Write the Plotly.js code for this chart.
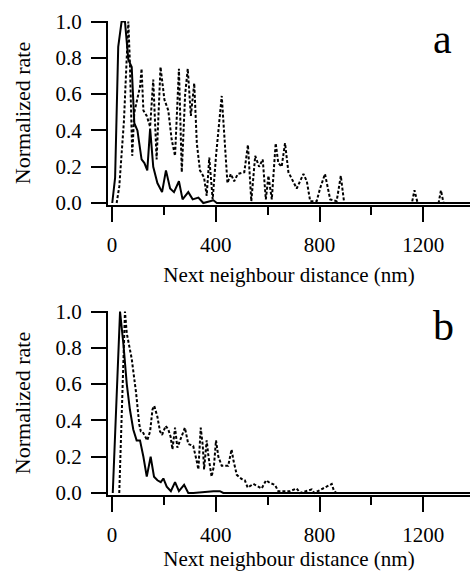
<!DOCTYPE html>
<html>
<head>
<meta charset="utf-8">
<script src="https://cdn.plot.ly/plotly-3.0.1.min.js"></script>
<style>html,body{margin:0;padding:0;background:#fff;}#chart{width:470px;height:571px;}</style>
</head>
<body>
<div id="chart"></div>
<script>
// Panel a
var aSolidX = [1, 12, 24, 37, 50, 63, 76, 86, 98, 114, 125, 136, 147, 159, 175, 193, 208, 224, 239, 258, 272, 294, 311, 333, 352, 391, 404, 1400];
var aSolidY = [0, 0.14, 0.86, 1.0, 1.0, 0.79, 0.75, 0.44, 0.40, 0.24, 0.22, 0.18, 0.41, 0.20, 0.11, 0.06, 0.18, 0.08, 0.06, 0.12, 0.02, 0.06, 0.02, 0.03, 0, 0.015, 0, 0];
var aDotX = [18, 28, 46, 63, 69, 78, 86, 108, 114, 121, 134, 147, 159, 172, 187, 202, 217, 230, 243, 258, 269, 282, 292, 304, 317, 327, 339, 355, 365, 375, 388, 401, 423, 436, 445, 458, 471, 485, 510, 524, 537, 552, 567, 581, 593, 603, 616, 631, 641, 654, 667, 680, 693, 712, 738, 751, 764, 789, 802, 821, 841, 866, 882, 895, 1156, 1166, 1178, 1259, 1268, 1278, 1400];
var aDotY = [0, 0.09, 0.45, 1.0, 0.77, 0.26, 0.5, 0.64, 0.74, 0.51, 0.48, 0.42, 0.68, 0.24, 0.75, 0.57, 0.51, 0.35, 0.26, 0.74, 0.17, 0.6, 0.74, 0.48, 0.66, 0.33, 0.18, 0.14, 0.04, 0.25, 0.02, 0.26, 0.59, 0.27, 0.11, 0.16, 0.12, 0.16, 0.17, 0.32, 0.01, 0.26, 0.2, 0.24, 0.02, 0.15, 0.02, 0.33, 0.22, 0.2, 0.33, 0.17, 0.13, 0.08, 0.16, 0.12, 0.01, 0.01, 0.08, 0.16, 0.02, 0.01, 0.15, 0, 0, 0.07, 0, 0, 0.07, 0, 0];
// Panel b
var bSolidX = [3, 31, 44, 57, 69, 82, 95, 108, 121, 134, 149, 162, 175, 188, 198, 211, 227, 243, 258, 278, 294, 314, 391, 416, 429, 1400];
var bSolidY = [0, 1.0, 0.82, 0.60, 0.46, 0.35, 0.29, 0.29, 0.20, 0.09, 0.20, 0.09, 0.07, 0.06, 0.08, 0.035, 0.01, 0.06, 0.01, 0.045, 0, 0, 0.01, 0.01, 0, 0];
var bDotX = [28, 50, 57, 76, 93, 99, 105, 111, 117, 136, 147, 156, 163, 175, 185, 193, 207, 217, 226, 233, 243, 252, 262, 281, 294, 313, 326, 333, 342, 350, 355, 365, 372, 384, 393, 401, 410, 423, 448, 461, 468, 481, 500, 512, 523, 545, 577, 594, 609, 628, 641, 661, 686, 712, 725, 770, 780, 847, 856, 866, 1400];
var bDotY = [0, 1.0, 0.88, 0.74, 0.55, 0.47, 0.38, 0.34, 0.34, 0.29, 0.34, 0.46, 0.48, 0.42, 0.34, 0.32, 0.37, 0.35, 0.31, 0.24, 0.36, 0.25, 0.29, 0.36, 0.27, 0.26, 0.18, 0.13, 0.36, 0.26, 0.13, 0.29, 0.2, 0.09, 0.15, 0.29, 0.2, 0.15, 0.15, 0.24, 0.18, 0.1, 0.077, 0.07, 0.03, 0.05, 0.025, 0.07, 0.055, 0.045, 0.01, 0.01, 0.01, 0.025, 0, 0.02, 0, 0.05, 0.01, 0, 0];

var xTitle = 'Next neighbour distance (nm)';
var yTitle = 'Normalized rate';
var panelLabels = ['a', 'b'];

var FONT = 'Liberation Serif';
var solid = {color: 'black', width: 2};
var dotted = {color: 'black', width: 2, dash: '3px,2px'};

var traces = [
  {x: aDotX, y: aDotY, xaxis: 'x', yaxis: 'y', mode: 'lines', line: dotted, hoverinfo: 'skip'},
  {x: aSolidX, y: aSolidY, xaxis: 'x', yaxis: 'y', mode: 'lines', line: solid, hoverinfo: 'skip'},
  {x: bDotX, y: bDotY, xaxis: 'x2', yaxis: 'y2', mode: 'lines', line: dotted, hoverinfo: 'skip'},
  {x: bSolidX, y: bSolidY, xaxis: 'x2', yaxis: 'y2', mode: 'lines', line: solid, hoverinfo: 'skip'}
];

function xa(anchor) {
  return {
    anchor: anchor, range: [-15.4, 1380], showgrid: false, zeroline: false,
    showline: true, linecolor: 'black', linewidth: 2,
    ticks: 'outside', ticklen: 15, tickwidth: 2, tickcolor: 'black',
    tick0: 0, dtick: 400, ticklabelstandoff: 5,
    minor: {ticks: 'outside', ticklen: 8, tickwidth: 2, tickcolor: 'black', dtick: 200, tick0: 0, showgrid: false},
    tickfont: {family: FONT, size: 21, color: 'black'},
    title: {text: xTitle, font: {family: FONT, size: 21, color: 'black'}, standoff: 11},
    automargin: false
  };
}
function ya(anchor, domain) {
  return {
    anchor: anchor, domain: domain, range: [-0.011, 1.003], showgrid: false, zeroline: false,
    showline: true, linecolor: 'black', linewidth: 2,
    ticks: 'outside', ticklen: 15, tickwidth: 2, tickcolor: 'black',
    tick0: 0, dtick: 0.2, tickformat: '.1f', ticklabelstandoff: 5,
    tickfont: {family: FONT, size: 21, color: 'black'},
    title: {text: yTitle, font: {family: FONT, size: 22, color: 'black'}, standoff: 19},
    automargin: false
  };
}

var layout = {
  width: 470, height: 571,
  margin: {l: 108, r: 0, t: 21, b: 76},
  paper_bgcolor: 'white', plot_bgcolor: 'white',
  showlegend: false,
  font: {family: FONT, color: 'black', size: 21},
  xaxis: xa('y'),
  yaxis: ya('x', [0.6118, 1]),
  xaxis2: xa('y2'),
  yaxis2: ya('x2', [0, 0.3882]),
  annotations: [
    {text: panelLabels[0], xref: 'paper', yref: 'paper', x: 0.925, y: 0.963, xanchor: 'center', yanchor: 'middle', showarrow: false, font: {family: FONT, size: 42, color: 'black'}},
    {text: panelLabels[1], xref: 'paper', yref: 'paper', x: 0.928, y: 0.356, xanchor: 'center', yanchor: 'middle', showarrow: false, font: {family: FONT, size: 42, color: 'black'}}
  ]
};

Plotly.newPlot('chart', traces, layout, {displayModeBar: false, staticPlot: true});
</script>
</body>
</html>
